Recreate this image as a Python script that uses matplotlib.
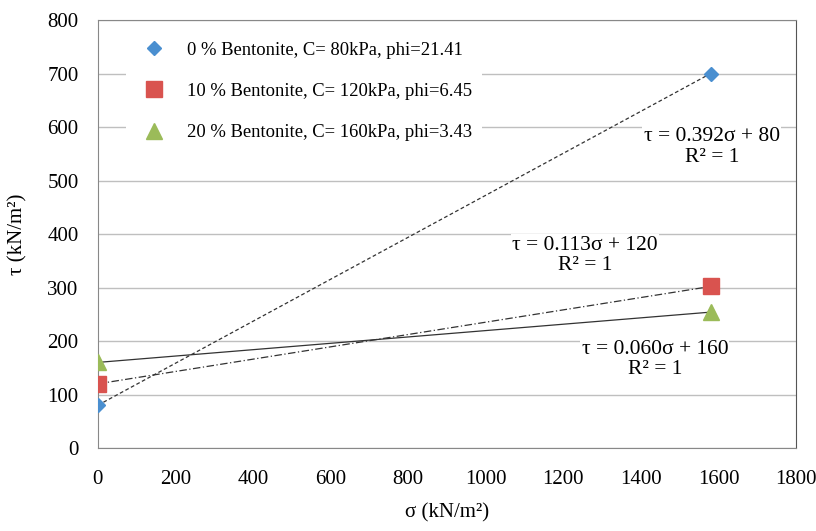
import matplotlib.pyplot as plt
import numpy as np

plt.rcParams['font.family'] = ['Liberation Serif', 'DejaVu Serif']

# data
sigma = [0, 1580]
tau_0 = [80, 700]
tau_10 = [120, 302]
tau_20 = [160, 254]
labels = ['0 % Bentonite, C= 80kPa, phi=21.41',
          '10 % Bentonite, C= 120kPa, phi=6.45',
          '20 % Bentonite, C= 160kPa, phi=3.43']
eq_texts = ['τ = 0.392σ + 80\nR² = 1',
            'τ = 0.113σ + 120\nR² = 1',
            'τ = 0.060σ + 160\nR² = 1']

fig = plt.figure(figsize=(8.16, 5.31), dpi=100)
ax = fig.add_axes([0.120, 0.1563, 0.8555, 0.806])

series = [tau_0, tau_10, tau_20]
markers = ['D', 's', '^']
colors = ['#4A8FD0', '#D9534F', '#9BBB59']
msizes = [7, 11, 11]
lstyles = [(0, (3, 2)), (0, (6, 2, 1, 2)), '-']

for ys, m, c, ms, ls, lab in zip(series, markers, colors, msizes, lstyles, labels):
    # trend line
    k, b = np.polyfit(sigma, ys, 1)
    xs = np.array(sigma)
    ax.plot(xs, k * xs + b, color='#333333', lw=0.9, ls=ls, zorder=3)
    ax.plot(sigma, ys, ls='none', marker=m, color=c, ms=ms, label=lab, zorder=4)

# equation labels (layout positions)
eq_pos = [(1583, 563), (1256, 360), (1436, 165)]
for (x, y), t in zip(eq_pos, eq_texts):
    ax.text(x, y, t, ha='center', va='center', fontsize=15.5, linespacing=1.1,
            bbox=dict(facecolor='white', edgecolor='none', pad=1), zorder=5)

ax.set_xlim(0, 1800)
ax.set_ylim(0, 800)
ax.set_xticks(np.arange(0, 1801, 200))
ax.set_yticks(np.arange(0, 801, 100))
ax.tick_params(axis='both', length=0, labelsize=15)
ax.tick_params(axis='x', pad=16)
ax.tick_params(axis='y', pad=14)
ax.grid(axis='y', color='#BFBFBF', lw=1)
ax.set_axisbelow(True)
for s in ax.spines.values():
    s.set_color('#888888')
ax.spines['right'].set_color('#555555')

ax.set_xlabel('σ (kN/m²)', fontsize=15, labelpad=10)
ax.set_ylabel('τ (kN/m²)', fontsize=15, labelpad=14)

leg = ax.legend(loc='upper left', bbox_to_anchor=(0.027, 0.993), frameon=True,
                fontsize=13.4, labelspacing=1.3, handletextpad=0.8,
                borderpad=0.5, edgecolor='none', framealpha=1, fancybox=False)

fig.savefig('out.png', dpi=100)
